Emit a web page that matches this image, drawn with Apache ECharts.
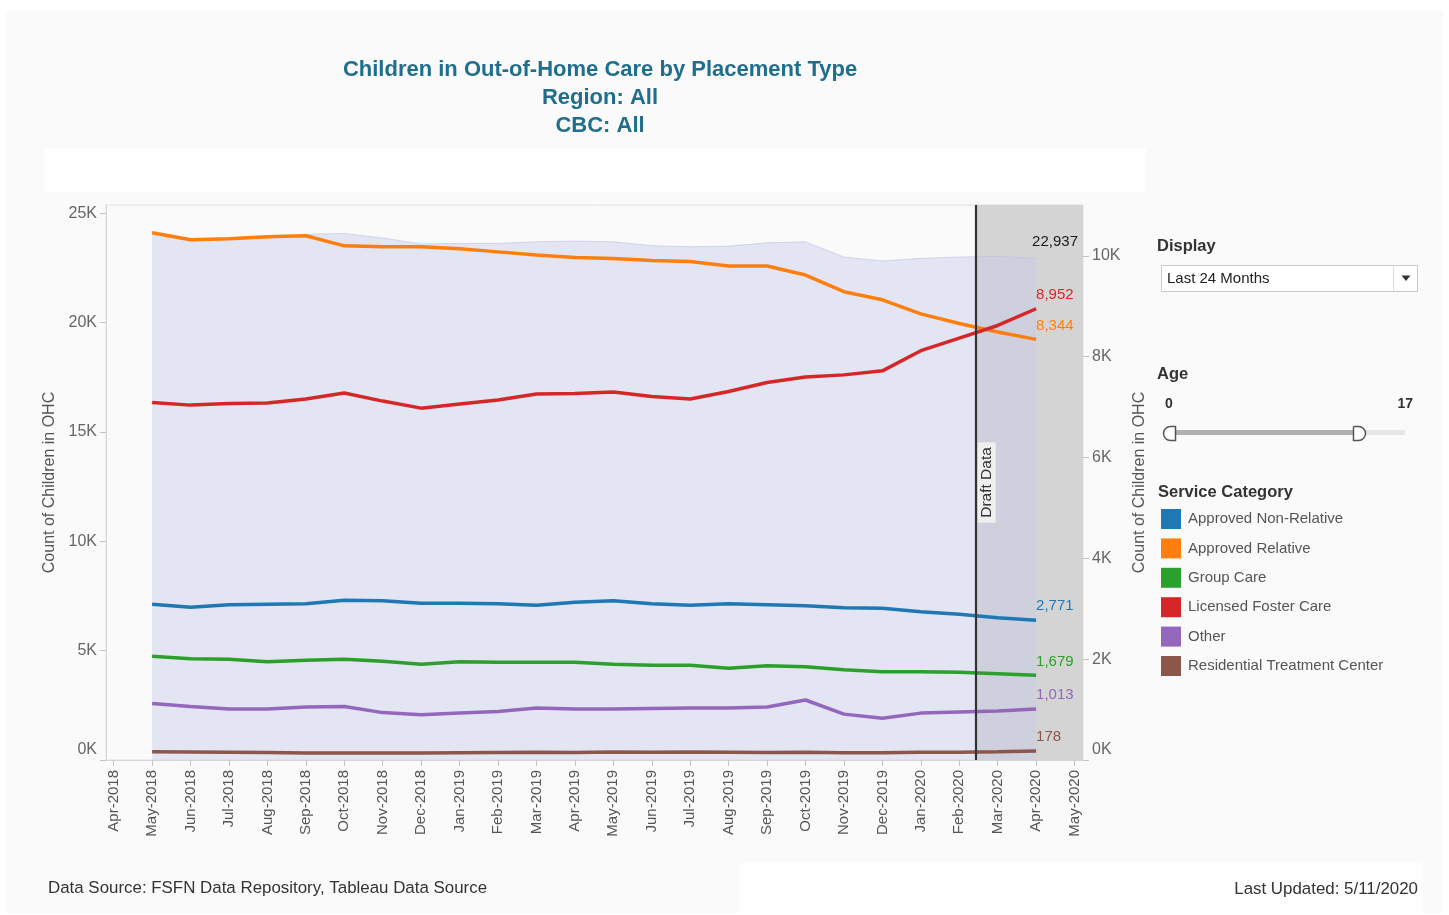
<!DOCTYPE html>
<html>
<head>
<meta charset="utf-8">
<script src="https://cdn.jsdelivr.net/npm/echarts@6/dist/echarts.min.js"></script>
<style>
html,body{margin:0;padding:0;background:#ffffff;}
#c{width:1449px;height:915px;}
</style>
</head>
<body>
<div id="c"></div>
<script>
// ---------- DATA ----------
const months = ['Apr-2018','May-2018','Jun-2018','Jul-2018','Aug-2018','Sep-2018','Oct-2018','Nov-2018','Dec-2018',
  'Jan-2019','Feb-2019','Mar-2019','Apr-2019','May-2019','Jun-2019','Jul-2019','Aug-2019','Sep-2019','Oct-2019','Nov-2019','Dec-2019',
  'Jan-2020','Feb-2020','Mar-2020','Apr-2020','May-2020'];
const firstDataMonth = 1; // data starts at May-2018
const seriesNames = ['Approved Non-Relative','Approved Relative','Group Care','Licensed Foster Care','Other','Residential Treatment Center'];
const approvedNonRelative = [3090,3030,3080,3090,3100,3170,3160,3110,3110,3100,3070,3130,3160,3100,3070,3100,3080,3060,3020,3010,2940,2890,2820,2771];
const approvedRelative    = [10460,10320,10340,10380,10400,10200,10180,10180,10140,10080,10020,9970,9950,9910,9890,9800,9800,9620,9290,9130,8850,8660,8490,8344];
const groupCare           = [2060,2010,2000,1950,1980,2000,1960,1900,1950,1940,1940,1940,1900,1880,1880,1820,1870,1850,1790,1750,1750,1740,1710,1679];
const licensedFosterCare  = [7090,7040,7070,7080,7160,7280,7120,6980,7060,7140,7260,7270,7300,7210,7160,7310,7490,7600,7640,7720,8120,8370,8620,8952];
const otherCare           = [1120,1060,1010,1010,1050,1060,940,900,930,960,1030,1010,1010,1020,1030,1030,1050,1190,910,830,930,950,970,1013];
const residentialTreatment= [165,160,155,150,140,140,140,140,145,150,155,150,160,155,160,155,150,155,145,145,155,155,165,178];
const totalOHC            = [24110,23780,23830,23920,24040,24080,23870,23600,23620,23630,23700,23730,23700,23520,23470,23500,23650,23700,23000,22820,22940,23000,23030,22937];
const draftStart = 22.43; // month position where draft data begins (mid Feb-2020)
const leftTicks  = [0,5000,10000,15000,20000,25000];
const rightTicks = [0,2000,4000,6000,8000,10000];

// ---------- CHART ----------
const FONT = '"Liberation Sans", Arial, Helvetica, sans-serif';
const colors = ['#1f77b4','#ff7f0e','#2ca02c','#d62728','#9467bd','#8c564b'];
const seriesValues = [approvedNonRelative, approvedRelative, groupCare, licensedFosterCare, otherCare, residentialTreatment];
const X_MIN = -0.2, X_MAX = 25.22;
const monthIdx = months.map((m,i)=>i);
const toPairs = arr => arr.map((v,k)=>[k+firstDataMonth, v]);
const fmt = v => Number(v).toLocaleString('en-US');
const kFmt = v => v === 0 ? '{z|0K}' : (v/1000)+'K';

function lineSeries(name, arr, color){
  return {
    name, type:'line', yAxisIndex:1, data:toPairs(arr), showSymbol:false, symbol:'none', z:3,
    lineStyle:{width:3.5,color}, itemStyle:{color}, emphasis:{disabled:true},
    endLabel:{show:true, formatter:p=>fmt(p.value[1]), color, fontSize:15, fontFamily:FONT, distance:0, offset:[0,-14]}
  };
}

const series = [
  {name:'draftBand', type:'line', yAxisIndex:1, data:[], z:1,
   markArea:{silent:true, itemStyle:{color:'#d4d4d4'}, data:[[{xAxis:draftStart},{xAxis:X_MAX}]]}},
  {name:'Total', type:'line', yAxisIndex:0, data:toPairs(totalOHC), showSymbol:false, symbol:'none', z:2,
   lineStyle:{width:1,color:'rgba(185,190,225,0.55)'}, areaStyle:{color:'rgba(199,204,232,0.45)', opacity:1},
   emphasis:{disabled:true},
   endLabel:{show:true, formatter:p=>fmt(p.value[1]), color:'#1a1a1a', fontSize:15, fontFamily:FONT, distance:0, offset:[-4,-17]}},
];
seriesNames.forEach((n,i)=>series.push(lineSeries(n, seriesValues[i], colors[i])));
series.push({name:'draftLine', type:'line', yAxisIndex:1, data:[], z:5,
  markLine:{silent:true, symbol:['none','none'], animation:false,
    lineStyle:{color:'#333333', width:2.2, type:'solid'},
    label:{show:true, formatter:'Draft Data', position:'insideMiddleBottom', distance:2, color:'#333', fontSize:15.5,
      fontFamily:FONT, backgroundColor:'#efefef', padding:[1,5]},
    data:[{xAxis:draftStart}]}});

const axisLineStyle = {color:'#d6d6d6'};
const tickStyle = {color:'#c4c4c4'};
const richZero = {z:{fontSize:16, color:'#666', fontFamily:FONT, padding:[0,0,20,0]}};

const option = {
  animation:false,
  backgroundColor:'#ffffff',
  textStyle:{fontFamily:FONT},
  title:{
    text:'Children in Out-of-Home Care by Placement Type\nRegion: All\nCBC: All',
    left:595, top:51, textAlign:'center',
    textStyle:{fontSize:22, fontWeight:'bold', color:'#1f6e8e', lineHeight:28, fontFamily:FONT}
  },
  legend:{
    data:seriesNames, orient:'vertical', left:1161, top:509, padding:0, icon:'rect', itemWidth:20, itemHeight:20, itemGap:9.4,
    selectedMode:false, textStyle:{fontSize:15, color:'#555', fontFamily:FONT, padding:[0,0,0,2]}
  },
  grid:{left:106, right:366, top:205, bottom:155, show:true, borderColor:'#e2e2e2', borderWidth:1,
        backgroundColor:'transparent', outerBoundsMode:'none'},
  xAxis:{
    type:'value', min:X_MIN, max:X_MAX, splitLine:{show:false},
    axisLine:{show:true, onZero:false, lineStyle:axisLineStyle},
    axisTick:{show:true, customValues:monthIdx, length:6, lineStyle:tickStyle},
    axisLabel:{customValues:monthIdx, rotate:90, margin:10, fontSize:15, color:'#555', fontFamily:FONT,
               formatter:v=>months[Math.round(v)]}
  },
  yAxis:[
    {type:'value', position:'left', min:0, max:25380, name:'Count of Children in OHC', nameLocation:'middle', nameGap:40,
     nameTextStyle:{fontSize:16, color:'#555', fontFamily:FONT}, splitLine:{show:false},
     axisLine:{show:true, onZero:false, lineStyle:axisLineStyle},
     axisTick:{show:true, customValues:leftTicks, length:6, lineStyle:tickStyle},
     axisLabel:{customValues:leftTicks, formatter:kFmt, rich:richZero, fontSize:16, color:'#666', margin:9, fontFamily:FONT}},
    {type:'value', position:'right', min:0, max:11010, name:'Count of Children in OHC', nameLocation:'middle', nameGap:33,
     nameTextStyle:{fontSize:16, color:'#555', fontFamily:FONT}, splitLine:{show:false},
     axisLine:{show:false, onZero:false, lineStyle:axisLineStyle},
     axisTick:{show:true, customValues:rightTicks, length:6, lineStyle:tickStyle},
     axisLabel:{customValues:rightTicks, formatter:kFmt, rich:richZero, fontSize:16, color:'#666', margin:9, fontFamily:FONT}}
  ],
  graphic:[
    {type:'rect', z:-100, shape:{x:6,y:10,width:1437,height:903}, style:{fill:'#fafafa'}},
    {type:'rect', z:-90, shape:{x:44,y:148,width:1102,height:44}, style:{fill:'#fefefe'}},
    {type:'rect', z:-90, shape:{x:739,y:863,width:684,height:52}, style:{fill:'#fefefe'}},
    {type:'text', z:10, x:48, y:888, style:{text:'Data Source: FSFN Data Repository, Tableau Data Source', fontSize:16.9, fontFamily:FONT, fill:'#333', verticalAlign:'middle'}},
    {type:'text', z:10, x:1418, y:889, style:{text:'Last Updated: 5/11/2020', fontSize:16.9, fontFamily:FONT, fill:'#333', align:'right', verticalAlign:'middle'}},
    {type:'text', z:10, x:1157, y:246, style:{text:'Display', fontSize:16.5, fontWeight:'bold', fontFamily:FONT, fill:'#333', verticalAlign:'middle'}},
    {type:'rect', z:10, shape:{x:1161.5,y:265.5,width:256,height:26}, style:{fill:'#ffffff', stroke:'#c9c9c9', lineWidth:1}},
    {type:'line', z:11, shape:{x1:1393.5,y1:266,x2:1393.5,y2:291}, style:{stroke:'#dddddd', lineWidth:1}},
    {type:'polygon', z:11, shape:{points:[[1401.5,275.5],[1410.5,275.5],[1406,281]]}, style:{fill:'#333'}},
    {type:'text', z:11, x:1167, y:278.5, style:{text:'Last 24 Months', fontSize:15, fontFamily:FONT, fill:'#222', verticalAlign:'middle'}},
    {type:'text', z:10, x:1157, y:374, style:{text:'Age', fontSize:16.5, fontWeight:'bold', fontFamily:FONT, fill:'#333', verticalAlign:'middle'}},
    {type:'text', z:10, x:1165, y:404, style:{text:'0', fontSize:14, fontWeight:'bold', fontFamily:FONT, fill:'#333', verticalAlign:'middle'}},
    {type:'text', z:10, x:1413, y:404, style:{text:'17', fontSize:14, fontWeight:'bold', fontFamily:FONT, fill:'#333', align:'right', verticalAlign:'middle'}},
    {type:'rect', z:10, shape:{x:1168,y:430,width:237,height:5}, style:{fill:'#e6e6e6'}},
    {type:'rect', z:11, shape:{x:1170,y:430,width:188,height:5}, style:{fill:'#b0b0b0'}},
    {type:'rect', z:12, shape:{x:1163.5,y:426.5,width:12,height:14,r:[7,0,0,7]}, style:{fill:'#ffffff', stroke:'#555', lineWidth:1.5}},
    {type:'rect', z:12, shape:{x:1353.5,y:426.5,width:12,height:14,r:[0,7,7,0]}, style:{fill:'#ffffff', stroke:'#555', lineWidth:1.5}},
    {type:'text', z:10, x:1158, y:492, style:{text:'Service Category', fontSize:16.5, fontWeight:'bold', fontFamily:FONT, fill:'#333', verticalAlign:'middle'}}
  ],
  series
};
const chart = echarts.init(document.getElementById('c'), null, {renderer:'canvas'});
chart.setOption(option);
</script>
</body>
</html>
